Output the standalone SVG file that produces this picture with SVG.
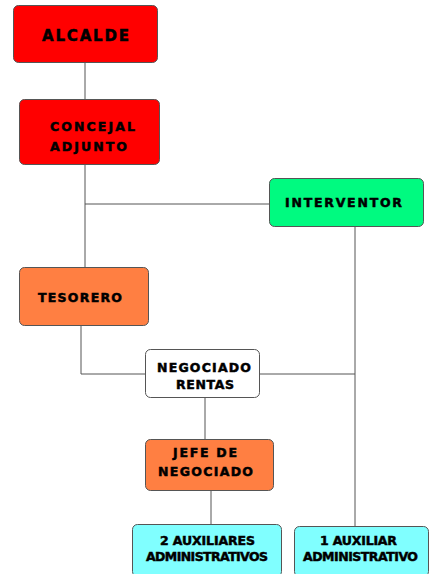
<svg xmlns="http://www.w3.org/2000/svg" width="429" height="574" viewBox="0 0 429 574">
<style>
.box{stroke:#555;stroke-width:1}
.red{fill:#FF0000}.green{fill:#00FA80}.orange{fill:#FF7F42}.cyan{fill:#80FFFF}.white{fill:#FFFFFF}
text{font-family:"DejaVu Sans","Liberation Sans",sans-serif;font-weight:bold;font-size:12.5px;fill:#000;stroke:#000;stroke-width:0.5}
.big{font-size:15px}
.conn{stroke:#555;stroke-width:1;fill:none}
</style>
<rect width="429" height="574" fill="#fff"/>
<g id="connectors">
<line class="conn" x1="85" y1="62" x2="85" y2="99"/>
<line class="conn" x1="85" y1="165" x2="85" y2="267"/>
<line class="conn" x1="85" y1="204" x2="269" y2="204"/>
<line class="conn" x1="355" y1="226" x2="355" y2="526"/>
<polyline class="conn" points="81,325 81,374 145,374"/>
<line class="conn" x1="259" y1="374" x2="355" y2="374"/>
<line class="conn" x1="205" y1="397" x2="205" y2="439"/>
<line class="conn" x1="211" y1="490" x2="211" y2="524"/>
</g>
<g id="alcalde">
<rect class="box red" x="13.5" y="5.5" width="144" height="57" rx="5"/>
<text class="big" x="42" y="41" textLength="87" lengthAdjust="spacing">ALCALDE</text>
</g>
<g id="concejal">
<rect class="box red" x="19.5" y="99.5" width="140" height="65" rx="5"/>
<text x="50" y="131" textLength="85" lengthAdjust="spacing">CONCEJAL</text>
<text x="50" y="151" textLength="77" lengthAdjust="spacing">ADJUNTO</text>
</g>
<g id="interventor">
<rect class="box green" x="269.5" y="178.5" width="154" height="48" rx="5"/>
<text x="285" y="207" textLength="117" lengthAdjust="spacing">INTERVENTOR</text>
</g>
<g id="tesorero">
<rect class="box orange" x="19.5" y="267.5" width="129" height="58" rx="5"/>
<text x="38" y="302" textLength="84" lengthAdjust="spacing">TESORERO</text>
</g>
<g id="negociado">
<rect class="box white" x="145.5" y="349.5" width="114" height="48" rx="5"/>
<text x="157" y="372" textLength="94" lengthAdjust="spacing">NEGOCIADO</text>
<text x="176" y="389" textLength="58" lengthAdjust="spacing">RENTAS</text>
</g>
<g id="jefe">
<rect class="box orange" x="145.5" y="439.5" width="128" height="51" rx="5"/>
<text x="173" y="457" textLength="64" lengthAdjust="spacing">JEFE DE</text>
<text x="158" y="476" textLength="95" lengthAdjust="spacing">NEGOCIADO</text>
</g>
<g id="aux2">
<rect class="box cyan" x="132.5" y="524.5" width="149" height="52" rx="5"/>
<text x="160" y="545" textLength="95" lengthAdjust="spacing">2 AUXILIARES</text>
<text x="146" y="561" textLength="122" lengthAdjust="spacing">ADMINISTRATIVOS</text>
</g>
<g id="aux1">
<rect class="box cyan" x="294.5" y="526.5" width="134" height="50" rx="5"/>
<text x="320" y="545" textLength="77" lengthAdjust="spacing">1 AUXILIAR</text>
<text x="303" y="561" textLength="115" lengthAdjust="spacing">ADMINISTRATIVO</text>
</g>
</svg>
